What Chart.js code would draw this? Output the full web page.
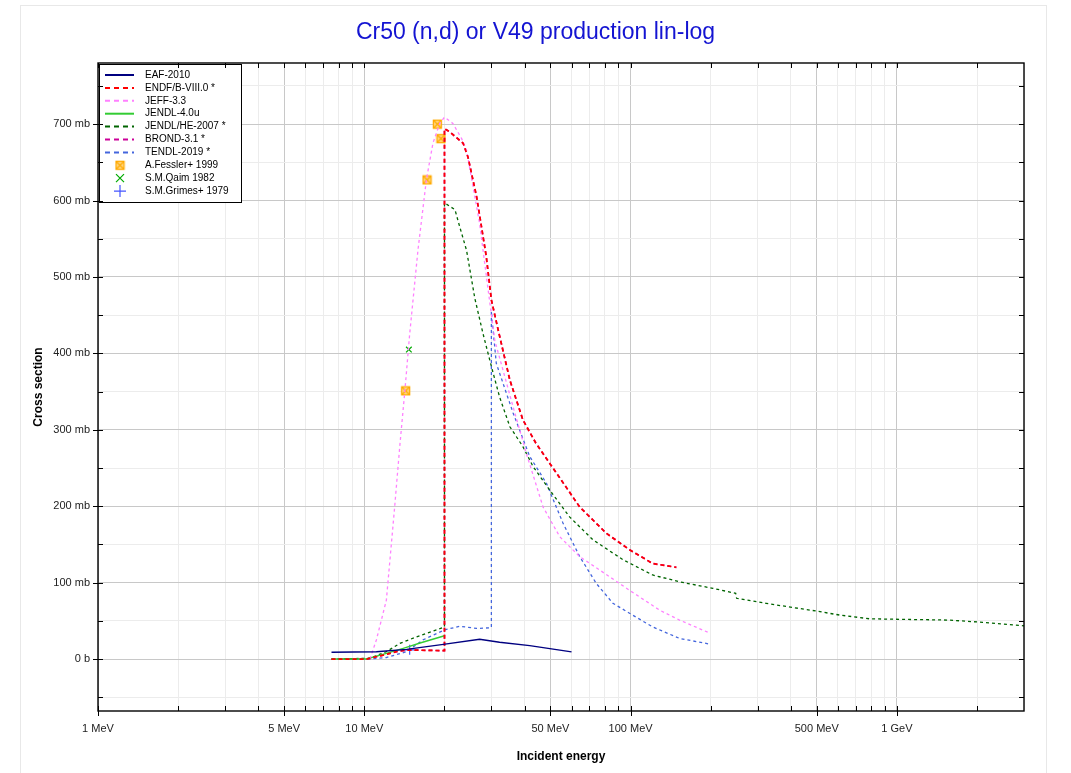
<!DOCTYPE html>
<html>
<head>
<meta charset="utf-8">
<title>Cr50 (n,d) or V49 production lin-log</title>
<script src="https://cdn.jsdelivr.net/npm/chart.js@4.4.1/dist/chart.umd.min.js"></script>
<style>
  html, body { margin: 0; padding: 0; background: #fff; }
  #wrap { position: relative; width: 1071px; height: 773px; overflow: hidden; }
  #frame { position: absolute; left: 20px; top: 5px; width: 1025px; height: 800px; border: 1px solid #e8e8e8; }
  #chart { position: absolute; left: 0; top: 0; }
</style>
</head>
<body>
<div id="wrap">
  <div id="frame"></div>
  <canvas id="chart" width="1071" height="773"></canvas>
</div>
<script>
// ── Data (energy in MeV, cross section in mb) ──────────
const eafE   = [7.53, 11.1, 14.4, 19.8, 27.1, 32.2, 41.8, 60];
const eafXs  = [8.8, 9.6, 12.7, 19.2, 25.8, 22, 17.5, 9.4];

const endfE  = [7.53, 10.2, 11.4, 13.2, 14.4, 20, 20, 20.9, 23.5, 24.5, 26.4, 28.7, 30, 31.8, 35.2, 39.4, 44, 49.7, 64.4, 81.1, 99.1, 121, 148.5];
const endfXs = [0, 0, 4, 9.6, 11.8, 11, 694, 690, 675, 657, 605, 527, 470, 431, 365, 313, 283, 256, 199, 164.5, 143, 125, 120];

const jeffE  = [10.5, 11.1, 12.1, 13.0, 13.6, 14.2, 14.8, 15.9, 17.1, 18.1, 19.2, 20.0, 21.5, 23.2, 24.2, 27.1, 29, 30.9, 36.2, 40.6, 46.9, 54.2, 64.4, 76.5, 99, 128.5, 152.7, 198];
const jeffXs = [0, 25, 77, 199, 280, 351, 425, 535, 627, 675, 701, 709, 701, 681, 666, 570, 490, 417, 330, 269, 199, 160, 134, 116.5, 90, 64, 51, 34];

const j40E   = [7.53, 10.2, 12.1, 14.0, 16.2, 20];
const j40Xs  = [0, 0, 7.4, 14, 21, 30.5];

const jheE   = [7.53, 10.5, 12.1, 13.6, 15.7, 20, 20, 21.9, 22.8, 24.2, 26.0, 27.9, 30, 32.2, 35.2, 39.4, 43.0, 49.7, 59.0, 72.2, 93.6, 121, 152.7, 203.7, 248, 250, 323, 497.6, 608, 788, 1022, 1574, 2099, 2883, 3000];
const jheXs  = [0, 1, 9.6, 20.5, 29, 42, 597, 588, 566, 535, 472, 426, 383, 343, 304, 278, 252, 221, 186, 156, 130, 110, 101, 92.5, 86, 79.5, 72.8, 62.8, 57.6, 52.7, 52, 51, 48, 44, 43.5];

const brondE  = [7.53, 10.2, 11.4, 13.2, 14.4, 20, 20, 20.9, 23.5, 24.5, 26.4, 28.7, 30, 31.8, 35.2, 39.4, 44, 49.7, 64.4, 81.1, 99.1, 121, 148.5];
const brondXs = [0, 0, 4, 9.6, 11.8, 11, 694, 690, 675, 657, 605, 527, 470, 431, 365, 313, 283, 256, 199, 164.5, 143, 125, 120];

const tenE   = [7.53, 10.5, 12.1, 14.4, 16.6, 20, 22.8, 26.4, 30, 30, 31.3, 36.2, 41.8, 48.3, 55.7, 64.4, 74.3, 85.8, 99, 121, 152.7, 198];
const tenXs  = [0, 0, 2, 9.6, 25, 38, 43, 40, 41, 455, 387, 322, 265, 230, 178, 134, 99, 73, 60, 42, 27, 19.6];

const fesslerE  = [14.3, 17.2, 18.8, 19.4];
const fesslerXs = [351, 627, 700, 681];
const qaimE     = [14.7];
const qaimXs    = [405];
const grimesE   = [14.8];
const grimesXs  = [12];

// axis ticks
const xLabelVals = [1, 5, 10, 50, 100, 500, 1000];
const xLabels    = ['1 MeV', '5 MeV', '10 MeV', '50 MeV', '100 MeV', '500 MeV', '1 GeV'];
const yLabelVals = [0, 100, 200, 300, 400, 500, 600, 700];
const yLabels    = ['0 b', '100 mb', '200 mb', '300 mb', '400 mb', '500 mb', '600 mb', '700 mb'];

const FONT = '"Liberation Sans", Arial, sans-serif';

function pts(xs, ys) { return xs.map((x, i) => ({ x: x, y: ys[i] })); }

// ── Fessler marker (square with a cross) ──────────
function boxCross() {
    const c = document.createElement('canvas');
    c.width = 11; c.height = 11;
    const g = c.getContext('2d');
    g.fillStyle = '#ffd98a';
    g.fillRect(1, 1, 9, 9);
    g.strokeStyle = '#ffaa00';
    g.lineWidth = 1.3;
    g.strokeRect(1.5, 1.5, 8, 8);
    g.beginPath();
    g.moveTo(2, 2); g.lineTo(9, 9);
    g.moveTo(9, 2); g.lineTo(2, 9);
    g.stroke();
    return c;
}
const fesslerMark = boxCross();

function lineSet(label, xs, ys, color, width, dash) {
    return { label: label, data: pts(xs, ys), showLine: true, borderColor: color, backgroundColor: color,
             borderWidth: width, borderDash: dash, pointRadius: 0, tension: 0, kind: 'line' };
}
function pointSet(label, xs, ys, style, color, radius) {
    return { label: label, data: pts(xs, ys), showLine: false, pointStyle: style, pointRadius: radius,
             borderColor: color, backgroundColor: color, pointBorderWidth: 1.2, kind: 'point' };
}

const datasets = [
    lineSet('EAF-2010', eafE, eafXs, '#000080', 1.4, []),
    lineSet('ENDF/B-VIII.0 *', endfE, endfXs, '#ff0000', 1.7, [4, 3]),
    lineSet('JEFF-3.3', jeffE, jeffXs, '#ff80ff', 1.3, [3, 3]),
    lineSet('JENDL-4.0u', j40E, j40Xs, '#33cc33', 1.4, []),
    lineSet('JENDL/HE-2007 *', jheE, jheXs, '#006400', 1.3, [3, 3]),
    lineSet('BROND-3.1 *', brondE, brondXs, '#cc0099', 1.7, [4, 3]),
    lineSet('TENDL-2019 *', tenE, tenXs, '#4466dd', 1.3, [3, 3]),
    pointSet('A.Fessler+ 1999', fesslerE, fesslerXs, fesslerMark, '#ffaa00', 5),
    pointSet('S.M.Qaim 1982', qaimE, qaimXs, 'crossRot', '#00aa00', 4),
    pointSet('S.M.Grimes+ 1979', grimesE, grimesXs, 'cross', '#4455ff', 5)
];

// ── Legend inside the plot ──────────
const insideLegend = {
    id: 'insideLegend',
    afterDatasetsDraw(chart) {
        const { ctx, chartArea: a } = chart;
        const x0 = a.left + 1, y0 = a.top + 1, w = 142, h = 138;
        ctx.save();
        ctx.fillStyle = '#fff';
        ctx.fillRect(x0, y0, w, h);
        ctx.strokeStyle = '#000';
        ctx.lineWidth = 1;
        ctx.strokeRect(x0 + 0.5, y0 + 0.5, w, h);
        ctx.font = '10px ' + FONT;
        ctx.textBaseline = 'middle';
        chart.data.datasets.forEach((d, i) => {
            const yy = y0 + 11 + i * 12.9;
            if (d.kind === 'line') {
                ctx.strokeStyle = d.borderColor;
                ctx.lineWidth = 2;
                ctx.setLineDash(d.borderDash.length ? [5, 4] : []);
                ctx.beginPath();
                ctx.moveTo(x0 + 6, yy); ctx.lineTo(x0 + 35, yy);
                ctx.stroke();
                ctx.setLineDash([]);
            } else {
                const cx = x0 + 21;
                ctx.strokeStyle = d.borderColor;
                ctx.lineWidth = 1.2;
                if (d.pointStyle instanceof HTMLCanvasElement) {
                    ctx.drawImage(d.pointStyle, cx - 5.5, yy - 5.5);
                } else if (d.pointStyle === 'crossRot') {
                    ctx.beginPath();
                    ctx.moveTo(cx - 4, yy - 4); ctx.lineTo(cx + 4, yy + 4);
                    ctx.moveTo(cx + 4, yy - 4); ctx.lineTo(cx - 4, yy + 4);
                    ctx.stroke();
                } else {
                    ctx.beginPath();
                    ctx.moveTo(cx - 6, yy); ctx.lineTo(cx + 6, yy);
                    ctx.moveTo(cx, yy - 6); ctx.lineTo(cx, yy + 6);
                    ctx.stroke();
                }
            }
            ctx.fillStyle = '#000';
            ctx.fillText(d.label, x0 + 46, yy);
        });
        ctx.restore();
    }
};

// ── Plot frame and tick marks ──────────
const frame = {
    id: 'frame',
    afterDraw(chart) {
        const { ctx, chartArea: a, scales: { x, y } } = chart;
        ctx.save();
        ctx.strokeStyle = '#000';
        ctx.lineWidth = 1;
        ctx.beginPath();
        x.ticks.forEach(t => {
            const px = Math.round(x.getPixelForValue(t.value)) + 0.5;
            if (px < a.left || px > a.right) return;
            ctx.moveTo(px, a.bottom); ctx.lineTo(px, a.bottom - 5);
            ctx.moveTo(px, a.top); ctx.lineTo(px, a.top + 5);
            if (xLabelVals.includes(t.value)) { ctx.moveTo(px, a.bottom); ctx.lineTo(px, a.bottom + 5); }
        });
        y.ticks.forEach(t => {
            const py = Math.round(y.getPixelForValue(t.value)) + 0.5;
            ctx.moveTo(a.left, py); ctx.lineTo(a.left + 5, py);
            ctx.moveTo(a.right, py); ctx.lineTo(a.right - 5, py);
            if (yLabelVals.includes(t.value)) { ctx.moveTo(a.left, py); ctx.lineTo(a.left - 5, py); }
        });
        ctx.stroke();
        ctx.lineWidth = 1.4;
        ctx.strokeRect(a.left, a.top, a.right - a.left, a.bottom - a.top);
        ctx.restore();
    }
};

// ── Chart ──────────
new Chart(document.getElementById('chart'), {
    type: 'scatter',
    data: { datasets: datasets },
    plugins: [insideLegend, frame],
    options: {
        responsive: false,
        animation: false,
        layout: { padding: 0 },
        plugins: {
            legend: { display: false },
            tooltip: { enabled: false },
            title: {
                display: true,
                text: 'Cr50 (n,d) or V49 production lin-log',
                color: '#1414d2',
                font: { family: FONT, size: 23, weight: 'normal' },
                padding: { top: 19, bottom: 16.4 }
            }
        },
        scales: {
            x: {
                type: 'logarithmic',
                min: 1, max: 3000,
                afterBuildTicks: s => {
                    const ticks = [];
                    [1, 10, 100, 1000].forEach(d => {
                        for (let m = 1; m <= 9; m++) if (m * d <= 3000) ticks.push({ value: m * d });
                    });
                    s.ticks = ticks;
                },
                afterFit: s => { s.height = 62; },
                ticks: {
                    autoSkip: false, maxRotation: 0, padding: 11,
                    color: '#222', font: { family: FONT, size: 11 },
                    callback: v => { const i = xLabelVals.indexOf(v); return i >= 0 ? xLabels[i] : ''; }
                },
                grid: {
                    drawTicks: false,
                    color: c => (c.tick && xLabelVals.includes(c.tick.value)) ? '#c8c8c8' : '#ececec'
                },
                border: { display: false },
                title: {
                    display: true, text: 'Incident energy', color: '#000',
                    font: { family: FONT, size: 12, weight: 'bold' },
                    padding: { top: 0, bottom: 9 }
                }
            },
            y: {
                type: 'linear',
                min: -68, max: 780,
                afterBuildTicks: s => {
                    const ticks = [];
                    for (let v = -50; v <= 750; v += 50) ticks.push({ value: v });
                    s.ticks = ticks;
                },
                afterFit: s => { s.width = 98; },
                ticks: {
                    autoSkip: false, padding: 8,
                    color: '#222', font: { family: FONT, size: 11 },
                    callback: v => { const i = yLabelVals.indexOf(v); return i >= 0 ? yLabels[i] : ''; }
                },
                grid: {
                    drawTicks: false,
                    color: c => (c.tick && yLabelVals.includes(c.tick.value)) ? '#c8c8c8' : '#ececec'
                },
                border: { display: false },
                title: {
                    display: true, text: 'Cross section', color: '#000',
                    font: { family: FONT, size: 12, weight: 'bold' },
                    padding: { top: 31, bottom: 0 }
                }
            },
            // empty right-hand margin so the title centres on the whole page
            yRight: {
                type: 'linear', position: 'right',
                min: -68, max: 780,
                afterFit: s => { s.width = 47; },
                ticks: { display: false },
                grid: { display: false, drawTicks: false },
                border: { display: false }
            }
        }
    }
});
</script>
</body>
</html>
